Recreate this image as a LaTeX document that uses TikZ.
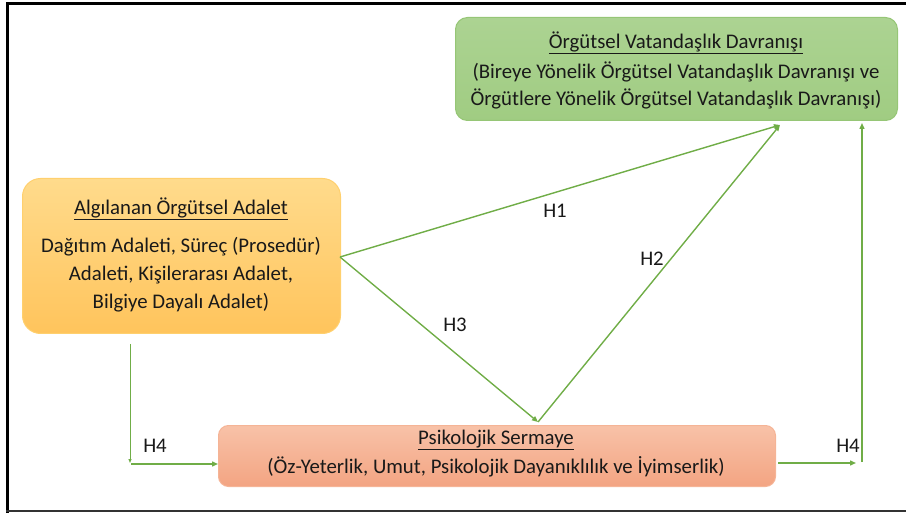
\documentclass[tikz,border=0pt]{standalone}
\usepackage{fontspec}
\setmainfont{Carlito}
\usetikzlibrary{arrows.meta}
\definecolor{lg}{RGB}{112,173,71}
\definecolor{gtop}{RGB}{172,211,146}
\definecolor{gbot}{RGB}{160,204,130}
\definecolor{gedge}{RGB}{150,198,118}
\definecolor{otop}{RGB}{255,219,140}
\definecolor{obot}{RGB}{255,196,92}
\definecolor{oedge}{RGB}{255,208,110}
\definecolor{stop}{RGB}{248,194,168}
\definecolor{sbot}{RGB}{243,164,130}
\definecolor{sedge}{RGB}{245,180,150}
\tikzset{
  box/.style={draw, line width=1pt, inner sep=0pt, anchor=north west},
  txt/.style={font=\fontsize{20.8}{24}\selectfont, text=black!90, inner sep=0pt},
  conn/.style={draw=lg, line width=1.4pt, -{Triangle[length=6pt,width=5pt]}},
  lbl/.style={font=\fontsize{20.8}{24}\selectfont, text=black!90, inner sep=0pt}
}
\begin{document}
\begin{tikzpicture}[x=1pt,y=-1pt]
\useasboundingbox (0,0) rectangle (906,513);
% frame
\draw[line width=3pt, black] (906,4) -- (7,4) -- (7,513);
\draw[line width=2pt, black!80] (6,511) -- (906,511);
% boxes
\node[box, draw=gedge, top color=gtop, bottom color=gbot, rounded corners=12pt,
      minimum width=442pt, minimum height=103pt] (ovd) at (455,17) {};
\node[box, draw=oedge, top color=otop, bottom color=obot, rounded corners=18pt,
      minimum width=318pt, minimum height=155pt] (ada) at (22,178) {};
\node[box, draw=sedge, top color=stop, bottom color=sbot, rounded corners=10pt,
      minimum width=557pt, minimum height=61pt] (psi) at (218,425) {};
% texts
\node[txt] (ovd1) at (676,43) {\underline{Örgütsel Vatandaşlık Davranışı}};
\node[txt] (ovd2) at (676,72) {(Bireye Yönelik Örgütsel Vatandaşlık Davranışı ve};
\node[txt] (ovd3) at (676,99) {Örgütlere Yönelik Örgütsel Vatandaşlık Davranışı)};
\node[txt] (ada1) at (181,209) {\underline{Algılanan Örgütsel Adalet}};
\node[txt] (ada2) at (181,247) {Dağıtım Adaleti, Süreç (Prosedür)};
\node[txt] (ada3) at (181,275) {Adaleti, Kişilerarası Adalet,};
\node[txt] (ada4) at (181,303) {Bilgiye Dayalı Adalet)};
\node[txt] (psi1) at (496,440) {\underline{Psikolojik Sermaye}};
\node[txt] (psi2) at (496,467) {(Öz-Yeterlik, Umut, Psikolojik Dayanıklılık ve İyimserlik)};
% connector points
\coordinate (a) at (340,257);
\coordinate (top) at (780,125);
\coordinate (pin) at (538,422);
\coordinate (l1) at (130,344);
\coordinate (l2) at (130,463);
\coordinate (l3) at (131,464);
\coordinate (r0) at (778,463);
\coordinate (r1) at (856,463);
\coordinate (r2) at (862,462);
\coordinate (r3) at (862,123);
% connectors
\draw[conn] (a) -- (top);
\draw[conn] (a) -- (pin);
\draw[conn] (pin) -- (top);
\draw[conn, -{Triangle[length=4pt,width=3pt]}, line width=1pt] (l1) -- (l2);
\draw[conn] (l3) -- (psi.west |- l3);
\draw[conn] (r0) -- (r1);
\draw[conn] (r2) -- (r3);
% labels
\node[lbl] (h1) at (555,211) {H1};
\node[lbl] (h2) at (652,259) {H2};
\node[lbl] (h3) at (455,325) {H3};
\node[lbl] (h4a) at (155,446) {H4};
\node[lbl] (h4b) at (848,446) {H4};
\end{tikzpicture}
\end{document}
